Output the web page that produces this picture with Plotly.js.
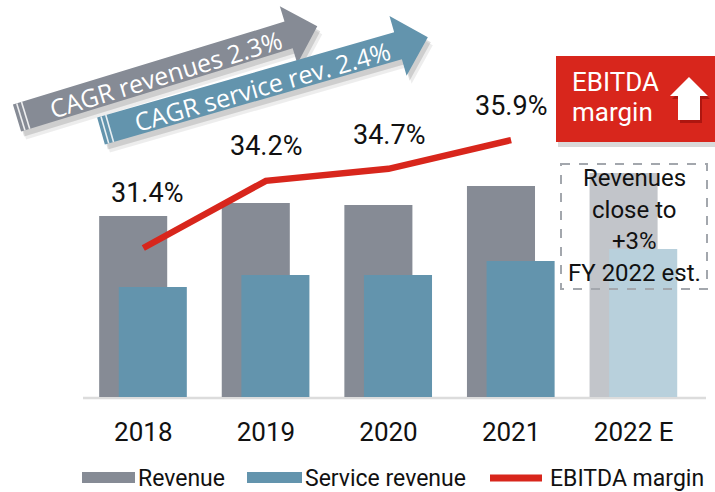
<!DOCTYPE html>
<html>
<head>
<meta charset="utf-8">
<script src="https://cdn.plot.ly/plotly-3.0.1.min.js"></script>
<style>
  html,body{margin:0;padding:0;background:#fff;}
  #chart{width:715px;height:492px;}
</style>
</head>
<body>
<div id="chart"></div>
<script>
// Revenue / service revenue bars with EBITDA margin line (2022 estimate shown faded)
const years = ["2018", "2019", "2020", "2021", "2022 E"];
const revenue = [181, 194, 192, 211, 224];
const serviceRevenue = [110, 122, 122, 136, 148];
const marginYears = ["2018", "2019", "2020", "2021"];
const ebitdaMargin = [31.4, 34.2, 34.7, 35.9];
const marginLabels = ebitdaMargin.map(v => v.toFixed(1) + "%");
const legendNames = ["Revenue", "Service revenue", "EBITDA margin"];

const C = {
  rev: "#868b95", revEst: "#c2c5ca",
  svc: "#6394ad", svcEst: "#b8d0dc",
  red: "#d8261c", grid: "#dcdcdc", text: "#111"
};
const FONT = "Roboto, 'Noto Sans', sans-serif";

// plot area in pixels: l=82, w=613, t=10, h=387
const L = 82, W = 613, T = 10, H = 387;
const X = px => (px - L) / W;
const Y = py => (T + H - py) / H;

const shapes = [], annotations = [];

// ---- CAGR arrows (decoration drawn in paper space) ----
function arrowPts(tx, ty, deg, len, h, hw, hl, dx = 0, dy = 0) {
  const a = deg * Math.PI / 180, ux = Math.cos(a), uy = -Math.sin(a), nx = Math.sin(a), ny = Math.cos(a);
  const P = (s, t) => [tx + dx + ux * s + nx * t, ty + dy + uy * s + ny * t];
  return [P(0, -h), P(len, -h), P(len, -hw), P(len + hl, 0), P(len, hw), P(len, h), P(0, h)];
}
function pathOf(pts) {
  return "M" + pts.map(p => X(p[0]).toFixed(5) + "," + Y(p[1]).toFixed(5)).join(" L") + " Z";
}
function addArrow(tx, ty, deg, len, h, hw, hl, fill) {
  shapes.push({type: "path", xref: "paper", yref: "paper", path: pathOf(arrowPts(tx, ty, deg, len, h, hw, hl, 5, 8)),
    fillcolor: "rgba(0,0,0,0.07)", line: {width: 0}});
  shapes.push({type: "path", xref: "paper", yref: "paper", path: pathOf(arrowPts(tx, ty, deg, len, h, hw, hl, 3, 5)),
    fillcolor: "rgba(0,0,0,0.13)", line: {width: 0}});
  shapes.push({type: "path", xref: "paper", yref: "paper", path: pathOf(arrowPts(tx, ty, deg, len, h, hw, hl)),
    fillcolor: fill, line: {width: 0}});
  // white stripes near the tail
  const a = deg * Math.PI / 180, ux = Math.cos(a), uy = -Math.sin(a), nx = Math.sin(a), ny = Math.cos(a);
  [4, 9].forEach(s => {
    const p0 = [tx + ux * s - nx * h, ty + uy * s - ny * h], p1 = [tx + ux * s + nx * h, ty + uy * s + ny * h];
    shapes.push({type: "line", xref: "paper", yref: "paper", x0: X(p0[0]), y0: Y(p0[1]), x1: X(p1[0]), y1: Y(p1[1]),
      line: {color: "rgba(255,255,255,0.85)", width: 1.6}});
  });
}
addArrow(17, 118, 17, 284, 14, 30, 30, "#868b95");
addArrow(101, 131, 16, 309, 14, 31, 31, "#6394ad");
annotations.push({xref: "paper", yref: "paper", x: X(165), y: Y(74), text: "CAGR revenues 2.3%", showarrow: false,
  textangle: -17, xanchor: "center", yanchor: "middle", font: {family: "'Open Sans', sans-serif", size: 25, color: "#fff"}});
annotations.push({xref: "paper", yref: "paper", x: X(262), y: Y(86), text: "CAGR service rev. 2.4%", showarrow: false,
  textangle: -16, xanchor: "center", yanchor: "middle", font: {family: "'Open Sans', sans-serif", size: 25, color: "#fff"}});

// ---- EBITDA margin badge ----
shapes.push({type: "rect", xref: "paper", yref: "paper", x0: X(558), x1: X(716), y0: Y(61), y1: Y(147),
  fillcolor: "rgba(0,0,0,0.15)", line: {width: 0}});
shapes.push({type: "rect", xref: "paper", yref: "paper", x0: X(556), x1: X(716), y0: Y(56), y1: Y(142),
  fillcolor: C.red, line: {width: 0}});
const upArrow = (dx, dy) => [[689, 77], [708, 96], [700, 96], [700, 120], [678, 120], [678, 96], [670, 96]]
  .map(p => [p[0] + dx, p[1] + dy]);
shapes.push({type: "path", xref: "paper", yref: "paper", path: pathOf(upArrow(2, 3)), fillcolor: "rgba(110,0,0,0.4)", line: {width: 0}});
shapes.push({type: "path", xref: "paper", yref: "paper", path: pathOf(upArrow(0, 0)), fillcolor: "#fff", line: {width: 0}});
annotations.push({xref: "paper", yref: "paper", x: X(570), y: Y(82), text: "EBITDA", showarrow: false,
  xanchor: "left", yanchor: "middle", font: {family: FONT, size: 26, color: "#fff"}});
annotations.push({xref: "paper", yref: "paper", x: X(570), y: Y(112), text: "margin", showarrow: false,
  xanchor: "left", yanchor: "middle", font: {family: FONT, size: 26, color: "#fff"}});

// ---- dashed estimate note ----
shapes.push({type: "rect", xref: "paper", yref: "paper", x0: X(561), x1: X(707), y0: Y(164), y1: Y(289),
  fillcolor: "rgba(0,0,0,0)", line: {color: "#a3a7ad", width: 2, dash: "dash"}});
["Revenues", "close to", "+3%", "FY 2022 est."].forEach((t, i) => {
  annotations.push({xref: "paper", yref: "paper", x: X(634), y: Y(178 + i * 31.5), text: t, showarrow: false,
    xanchor: "center", yanchor: "middle", font: {family: FONT, size: 24, color: "#111"}});
});

// ---- baseline ----
shapes.push({type: "line", xref: "paper", yref: "paper", x0: X(83), x1: X(706), y0: Y(398), y1: Y(398),
  line: {color: C.grid, width: 2.5}, layer: "below"});

// ---- margin labels (placed on the secondary axis) ----
const yShift = [55, 35, 34, 34];
marginYears.forEach((yr, i) => {
  annotations.push({xref: "x", yref: "y2", x: years.indexOf(yr), y: ebitdaMargin[i], yshift: yShift[i], xshift: i === 0 ? 4 : 0,
    text: marginLabels[i], showarrow: false, xanchor: "center", yanchor: "middle",
    font: {family: FONT, size: 27, color: "#111"}});
});

// ---- custom legend ----
shapes.push({type: "rect", xref: "paper", yref: "paper", x0: X(82), x1: X(135), y0: Y(472), y1: Y(483), fillcolor: C.rev, line: {width: 0}});
shapes.push({type: "rect", xref: "paper", yref: "paper", x0: X(247), x1: X(302), y0: Y(472), y1: Y(483), fillcolor: C.svc, line: {width: 0}});
shapes.push({type: "line", xref: "paper", yref: "paper", x0: X(490), x1: X(542), y0: Y(478), y1: Y(478), line: {color: C.red, width: 7}});
[[138, legendNames[0]], [305, legendNames[1]], [550, legendNames[2]]].forEach(([px, t]) => {
  annotations.push({xref: "paper", yref: "paper", x: X(px), y: Y(478), text: t, showarrow: false,
    xanchor: "left", yanchor: "middle", xshift: -2, font: {family: FONT, size: 23, color: "#111"}});
});

const traces = [
  {type: "bar", name: legendNames[0], x: years, y: revenue, width: 0.555, offset: -0.36,
   marker: {color: years.map((y, i) => i === years.length - 1 ? C.revEst : C.rev)}, hoverinfo: "skip"},
  {type: "bar", name: legendNames[1], x: years, y: serviceRevenue, width: 0.555, offset: -0.2,
   marker: {color: years.map((y, i) => i === years.length - 1 ? C.svcEst : C.svc)}, hoverinfo: "skip"},
  {type: "scatter", mode: "lines", name: legendNames[2], x: marginYears, y: ebitdaMargin, yaxis: "y2",
   line: {color: C.red, width: 6.5}, hoverinfo: "skip"}
];

const hiddenAxis = {showgrid: false, zeroline: false, showline: false, showticklabels: false, ticks: "", fixedrange: true};
const layout = {
  width: 715, height: 492,
  margin: {l: L, r: 715 - L - W, t: T, b: 492 - T - H},
  paper_bgcolor: "#fff", plot_bgcolor: "rgba(0,0,0,0)",
  showlegend: false, barmode: "overlay",
  font: {family: FONT, color: "#111"},
  xaxis: {type: "category", categoryorder: "array", categoryarray: years, range: [-0.5, 4.5],
          showgrid: false, zeroline: false, showline: false, ticks: "",
          tickfont: {family: FONT, size: 26, color: "#111"}, ticklabelstandoff: 17},
  yaxis: Object.assign({range: [0, 387]}, hiddenAxis),
  yaxis2: Object.assign({range: [25.19, 41.32], overlaying: "y", side: "right"}, hiddenAxis),
  shapes: shapes, annotations: annotations
};

Plotly.newPlot("chart", traces, layout, {displayModeBar: false, staticPlot: true});
</script>
</body>
</html>
